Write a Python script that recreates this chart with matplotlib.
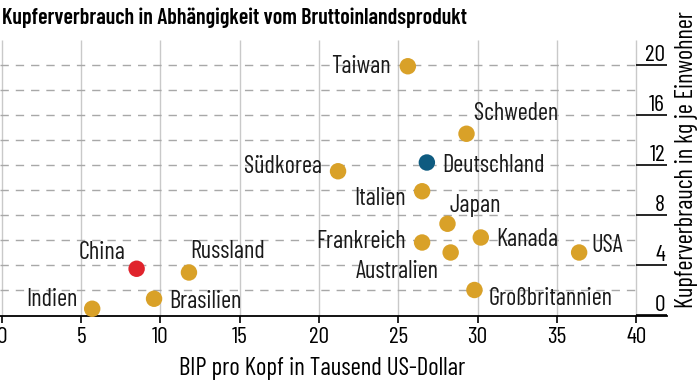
import numpy as np
import matplotlib
matplotlib.use('Agg')
import matplotlib.pyplot as plt
import matplotlib.transforms as mtransforms

plt.rcParams['font.family'] = ['Barlow Condensed', 'DejaVu Sans']

# Data: GDP per capita (1000 USD), copper use (kg per inhabitant)
countries = ['Taiwan', 'Schweden', 'Südkorea', 'Deutschland', 'Italien', 'Japan',
             'Kanada', 'Frankreich', 'Australien', 'USA', 'Großbritannien',
             'Indien', 'Brasilien', 'China', 'Russland']
gdp = [25.6, 29.3, 21.2, 26.8, 26.5, 28.1, 30.2, 26.5, 28.3, 36.4, 29.8, 5.7, 9.6, 8.5, 11.8]
copper = [19.9, 14.5, 11.5, 12.2, 9.9, 7.3, 6.2, 5.8, 5.0, 5.0, 2.0, 0.5, 1.3, 3.7, 3.4]

gold = '#D9A128'
colors = {'Deutschland': '#0E5B80', 'China': '#E0232C'}

# label placement: (dx px, dy px, horizontal alignment)
label_pos = {
    'Taiwan': (-17, 2, 'right'), 'Schweden': (7, 23, 'left'),
    'Südkorea': (-16, 7, 'right'), 'Deutschland': (15, 0, 'left'),
    'Italien': (-16, -5, 'right'), 'Japan': (2, 21, 'left'),
    'Kanada': (15, 0, 'left'), 'Frankreich': (-16, 3, 'right'),
    'Australien': (-12, -17, 'right'), 'USA': (12, 9, 'left'),
    'Großbritannien': (14, -6, 'left'), 'Indien': (-15, 12, 'right'),
    'Brasilien': (15, 0, 'left'), 'China': (-11, 19, 'right'),
    'Russland': (1, 23, 'left'),
}

fig = plt.figure(figsize=(7, 3.8), dpi=100)
ax = fig.add_axes([0, 64 / 380, 667 / 700, 276 / 380])
ax.set_xlim(-0.113, 41.94)
ax.set_ylim(-0.08, 22)

# grid
ax.vlines(np.arange(0, 41, 5), -0.08, 22, color='#c9c9c9', lw=1.0, zorder=0)
ax.hlines(np.arange(2, 21, 2), -0.113, 40, color='#a8a8a8', lw=1.0,
          linestyles=(0, (6, 5)), zorder=0)

pt_colors = [colors.get(c, gold) for c in countries]
ax.scatter(gdp, copper, s=140, c=pt_colors, linewidths=0, zorder=3, clip_on=False)

for c, x, y in zip(countries, gdp, copper):
    dx, dy, ha = label_pos[c]
    ax.annotate(c, (x, y), xytext=(dx * 0.72, dy * 0.72), textcoords='offset points',
                ha=ha, va='center_baseline', fontsize=17.5, color='#1a1a1a')

for s in ['left', 'top', 'right']:
    ax.spines[s].set_visible(False)
ax.spines['bottom'].set_linewidth(1.3)

ax.set_xticks(np.arange(0, 41, 5))
ax.tick_params(axis='x', direction='out', length=5, width=1.2, labelsize=17, pad=3)

ax.yaxis.tick_right()
ax.set_yticks(np.arange(0, 21, 4))
ax.tick_params(axis='y', direction='in', length=22.3, width=1.2, labelsize=17, pad=-1.5)
off = mtransforms.ScaledTranslation(0, 0.12, fig.dpi_scale_trans)
for lab in ax.get_yticklabels():
    lab.set_horizontalalignment('right')
    lab.set_transform(lab.get_transform() + off)

ax.set_xlabel('BIP pro Kopf in Tausend US-Dollar', fontsize=18, labelpad=2)
ax.xaxis.set_label_coords(322 / 667, -0.15)
fig.text(686 / 700, 1 - 160 / 380, 'Kupferverbrauch in kg je Einwohner', rotation=90,
         ha='center', va='center', fontsize=17.5)
fig.text(2 / 700, 1 - 18 / 380, 'Kupferverbrauch in Abhängigkeit vom Bruttoinlandsprodukt',
         ha='left', va='center', fontsize=15.8, fontweight=600)

fig.savefig('out.png', dpi=100)
